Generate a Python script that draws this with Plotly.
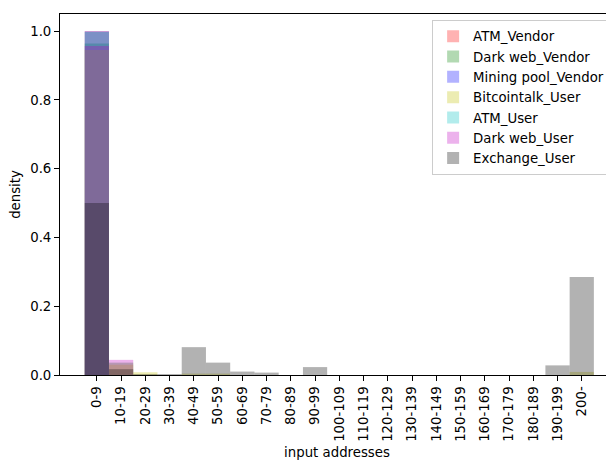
import plotly.graph_objects as go

categories = ["0-9", "10-19", "20-29", "30-39", "40-49", "50-59", "60-69", "70-79",
              "80-89", "90-99", "100-109", "110-119", "120-129", "130-139", "140-149",
              "150-159", "160-169", "170-179", "180-189", "190-199", "200-"]

series_names = ["ATM_Vendor", "Dark web_Vendor", "Mining pool_Vendor", "Bitcointalk_User",
                "ATM_User", "Dark web_User", "Exchange_User"]

atm_vendor = [1.0, 0, 0, 0, 0, 0, 0, 0, 0, 0, 0, 0, 0, 0, 0, 0, 0, 0, 0, 0, 0]
darkweb_vendor = [0.964, 0.036, 0, 0, 0, 0, 0, 0, 0, 0, 0, 0, 0, 0, 0, 0, 0, 0, 0, 0, 0]
miningpool_vendor = [1.0, 0, 0, 0, 0, 0, 0, 0, 0, 0, 0, 0, 0, 0, 0, 0, 0, 0, 0, 0, 0]
bitcointalk_user = [0.945, 0.03, 0.008, 0, 0.004, 0.004, 0, 0, 0, 0, 0, 0, 0, 0, 0, 0, 0, 0, 0, 0, 0.009]
atm_user = [0.998, 0, 0, 0, 0, 0, 0, 0, 0, 0, 0, 0, 0, 0, 0, 0, 0, 0, 0, 0, 0]
darkweb_user = [0.957, 0.044, 0, 0, 0, 0, 0, 0, 0, 0, 0, 0, 0, 0, 0, 0, 0, 0, 0, 0, 0]
exchange_user = [0.5, 0.017, 0.003, 0.003, 0.081, 0.036, 0.01, 0.007, 0, 0.023, 0, 0, 0, 0, 0, 0, 0, 0, 0, 0.028, 0.285]

series_values = [atm_vendor, darkweb_vendor, miningpool_vendor, bitcointalk_user,
                 atm_user, darkweb_user, exchange_user]
colors = ["rgba(255,0,0,0.3)", "rgba(0,128,0,0.3)", "rgba(0,0,255,0.3)",
          "rgba(191,191,0,0.3)", "rgba(0,191,191,0.3)", "rgba(191,0,191,0.3)",
          "rgba(0,0,0,0.3)"]

xpos = list(range(len(categories)))
tickvals = list(range(len(categories) + 1))
ticktext = categories + [""]

FONT = "DejaVu Sans"
fig = go.Figure()
for name, vals, col in zip(series_names, series_values, colors):
    fig.add_trace(go.Bar(x=xpos, y=vals, name=name, width=1.0,
                         marker=dict(color=col, line=dict(width=0))))

fig.update_layout(
    width=606, height=456,
    barmode="overlay",
    plot_bgcolor="white", paper_bgcolor="white",
    margin=dict(l=52, r=0, t=6, b=89),
    font=dict(family=FONT, size=13.3, color="black"),
    legend=dict(x=0.993, y=0.983, xanchor="right", yanchor="top",
                bgcolor="rgba(255,255,255,0.8)", bordercolor="#cccccc", borderwidth=1,
                font=dict(family=FONT, size=13.3, color="black"),
                tracegroupgap=0),
    xaxis=dict(range=[-1.52, 21.33], tickmode="array", tickvals=tickvals, ticktext=ticktext,
               tickangle=-90, ticks="outside", ticklen=5, tickcolor="black",
               showline=True, linecolor="black", linewidth=1, mirror=True,
               showgrid=False, zeroline=False, automargin=False,
               title=dict(text="input addresses", standoff=6,
                          font=dict(family=FONT, size=13.3))),
    yaxis=dict(range=[0, 1.05], tickmode="array", tickvals=[0, 0.2, 0.4, 0.6, 0.8, 1.0],
               tickformat=".1f", ticks="outside", ticklen=5, tickcolor="black",
               showline=True, linecolor="black", linewidth=1,
               showgrid=False, zeroline=False, automargin=False,
               title=dict(text="density", standoff=8,
                          font=dict(family=FONT, size=13.3))),
)

fig.write_html("out.html")
